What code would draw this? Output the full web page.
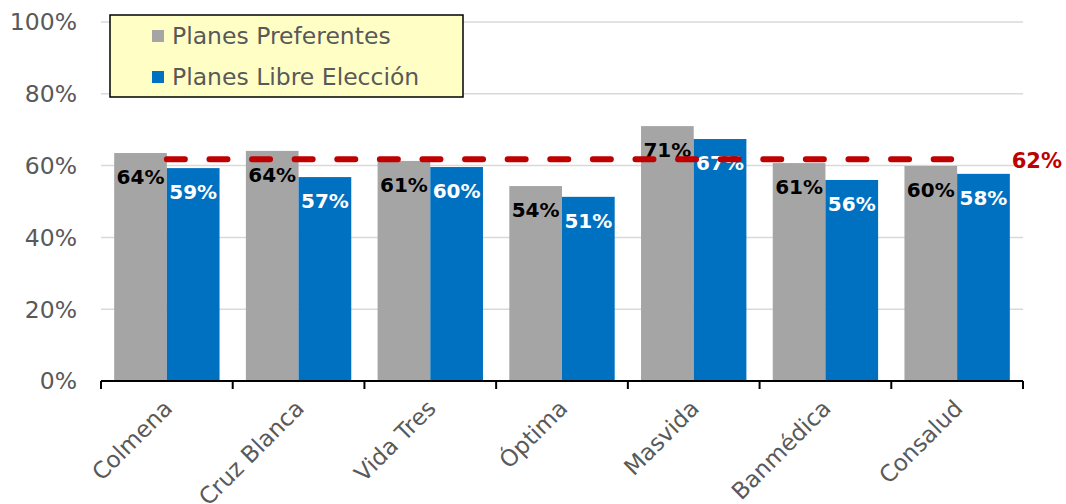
<!DOCTYPE html>
<html>
<head>
<meta charset="utf-8">
<script src="https://cdn.jsdelivr.net/npm/d3@7"></script>
<style>
  body { margin: 0; background: #fff; }
  svg { display: block; font-family: "DejaVu Sans", Verdana, sans-serif; }
</style>
</head>
<body>
<div id="chart"></div>
<script>
const width = 1066;
const height = 504;

const categories = ["Colmena", "Cruz Blanca", "Vida Tres", "Óptima", "Masvida", "Banmédica", "Consalud"];
const seriesNames = ["Planes Preferentes", "Planes Libre Elección"];
const preferentes = [0.635, 0.641, 0.613, 0.543, 0.71, 0.607, 0.599];
const libreEleccion = [0.593, 0.568, 0.596, 0.513, 0.674, 0.56, 0.577];
const preferentesLabels = ["64%", "64%", "61%", "54%", "71%", "61%", "60%"];
const libreLabels = ["59%", "57%", "60%", "51%", "67%", "56%", "58%"];
const average = 0.618;
const averageLabel = "62%";
const yTicks = [0, 0.2, 0.4, 0.6, 0.8, 1];

const seriesColors = ["#a5a5a5", "#0070c0"];
const labelColors = ["#000000", "#ffffff"];

const margin = { top: 22, right: 43, bottom: 123, left: 101 };

const svg = d3
  .select("#chart")
  .append("svg")
  .attr("width", width)
  .attr("height", height);

const x = d3
  .scaleBand()
  .domain(categories)
  .range([margin.left, width - margin.right])
  .paddingInner(0.2)
  .paddingOuter(0.1);

// outer band used for the tick marks at category boundaries
const xOuter = d3
  .scaleBand()
  .domain(categories)
  .range([margin.left, width - margin.right]);

const xSeries = d3
  .scaleBand()
  .domain(seriesNames)
  .range([0, x.bandwidth()]);

const y = d3
  .scaleLinear()
  .domain([0, 1])
  .range([height - margin.bottom, margin.top]);

// gridlines
svg
  .append("g")
  .selectAll("line")
  .data(yTicks.filter((d) => d > 0))
  .join("line")
  .attr("x1", margin.left)
  .attr("x2", width - margin.right)
  .attr("y1", (d) => y(d))
  .attr("y2", (d) => y(d))
  .attr("stroke", "#d9d9d9")
  .attr("stroke-width", 1.5);

// y tick labels
svg
  .append("g")
  .selectAll("text")
  .data(yTicks)
  .join("text")
  .attr("x", margin.left - 24)
  .attr("y", (d) => y(d))
  .attr("dy", "0.36em")
  .attr("text-anchor", "end")
  .attr("font-size", 23.5)
  .attr("fill", "#595959")
  .text((d) => d3.format(".0%")(d));

const rows = categories.map((c, i) => ({
  category: c,
  values: [
    { series: seriesNames[0], value: preferentes[i], label: preferentesLabels[i], idx: 0 },
    { series: seriesNames[1], value: libreEleccion[i], label: libreLabels[i], idx: 1 },
  ],
}));

const groups = svg
  .append("g")
  .selectAll("g")
  .data(rows)
  .join("g")
  .attr("transform", (d) => `translate(${x(d.category)},0)`);

groups
  .selectAll("rect")
  .data((d) => d.values)
  .join("rect")
  .attr("x", (d) => xSeries(d.series))
  .attr("width", xSeries.bandwidth())
  .attr("y", (d) => y(d.value))
  .attr("height", (d) => y(0) - y(d.value))
  .attr("fill", (d) => seriesColors[d.idx]);

// average dashed line
const avgStart = x(categories[0]) + xSeries(seriesNames[1]);
const avgEnd = x(categories[categories.length - 1]) + xSeries(seriesNames[1]) - 6;

svg
  .append("line")
  .attr("x1", avgStart)
  .attr("x2", avgEnd)
  .attr("y1", y(average))
  .attr("y2", y(average))
  .attr("stroke", "#c00000")
  .attr("stroke-width", 6)
  .attr("stroke-linecap", "round")
  .attr("stroke-dasharray", "18 24.6");

svg
  .append("text")
  .attr("x", width - 4)
  .attr("y", y(average) + 1)
  .attr("dy", "0.36em")
  .attr("text-anchor", "end")
  .attr("font-size", 21)
  .attr("font-weight", "bold")
  .attr("fill", "#c00000")
  .text(averageLabel);

// bar value labels
groups
  .selectAll("text")
  .data((d) => d.values)
  .join("text")
  .attr("x", (d) => xSeries(d.series) + xSeries.bandwidth() / 2)
  .attr("y", (d) => y(d.value) + 24)
  .attr("dy", "0.36em")
  .attr("text-anchor", "middle")
  .attr("font-size", 20)
  .attr("font-weight", "bold")
  .attr("fill", (d) => labelColors[d.idx])
  .text((d) => d.label);

// x axis
const axisY = y(0);
svg
  .append("line")
  .attr("x1", margin.left)
  .attr("x2", width - margin.right)
  .attr("y1", axisY)
  .attr("y2", axisY)
  .attr("stroke", "#000")
  .attr("stroke-width", 2);

const tickPositions = categories.map((c) => xOuter(c)).concat([width - margin.right]);
svg
  .append("g")
  .selectAll("line")
  .data(tickPositions)
  .join("line")
  .attr("x1", (d) => d)
  .attr("x2", (d) => d)
  .attr("y1", axisY)
  .attr("y2", axisY + 8)
  .attr("stroke", "#000")
  .attr("stroke-width", 2);

svg
  .append("g")
  .selectAll("text")
  .data(categories)
  .join("text")
  .attr("transform", (d) => `translate(${xOuter(d) + xOuter.bandwidth() / 2 + 1},${axisY + 23}) rotate(-45)`)
  .attr("text-anchor", "end")
  .attr("dy", "0.36em")
  .attr("font-size", 23)
  .attr("fill", "#595959")
  .text((d) => d);

// legend
const legend = svg.append("g").attr("transform", "translate(110,15)");
legend
  .append("rect")
  .attr("width", 353)
  .attr("height", 82)
  .attr("fill", "#ffffc5")
  .attr("stroke", "#000")
  .attr("stroke-width", 1.5);

const legendItems = legend
  .selectAll("g")
  .data(seriesNames)
  .join("g")
  .attr("transform", (d, i) => `translate(42,${21 + i * 41})`);

legendItems
  .append("rect")
  .attr("x", 0)
  .attr("y", -6)
  .attr("width", 12)
  .attr("height", 12)
  .attr("fill", (d, i) => seriesColors[i]);

legendItems
  .append("text")
  .attr("x", 20)
  .attr("dy", "0.36em")
  .attr("font-size", 23.5)
  .attr("fill", "#595959")
  .text((d) => d);
</script>
</body>
</html>
